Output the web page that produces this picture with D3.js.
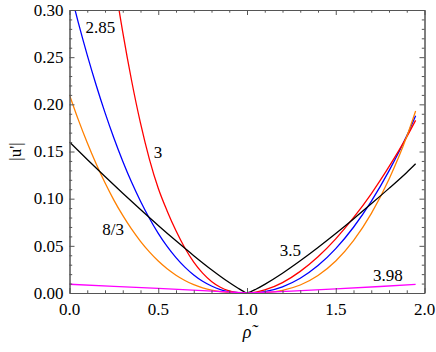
<!DOCTYPE html>
<html>
<head>
<script src="https://cdn.jsdelivr.net/npm/d3@7"></script>
</head>
<body style="margin:0">
<svg id="chart" width="436" height="352"></svg>
<script>
// ---- data ----
const xTicks = [0, 0.5, 1.0, 1.5, 2.0];
const yTicks = [0, 0.05, 0.10, 0.15, 0.20, 0.25, 0.30];

const rho285 = [0,0.05,0.1,0.15,0.2,0.25,0.3,0.35,0.4,0.45,0.5,0.55,0.6,0.65,0.7,0.75,0.8,0.85,0.9,0.95,1.0,1.05,1.1,1.2,1.3,1.4,1.5,1.6,1.7,1.8,1.9,1.95];
const u285   = [0.323,0.2863,0.2522,0.2205,0.1912,0.1643,0.1397,0.1173,0.0973,0.0793,0.0633,0.0494,0.0375,0.0274,0.0191,0.0124,0.0074,0.0037,0.0014,0.0003,0,0.0003,0.0015,0.0066,0.0157,0.0291,0.0471,0.0697,0.0971,0.1294,0.1666,0.188];

const rho3 = [0.2,0.25,0.3,0.35,0.4,0.45,0.5,0.55,0.6,0.65,0.7,0.75,0.8,0.85,0.9,0.95,1.0,1.05,1.1,1.2,1.3,1.4,1.5,1.6,1.7,1.8,1.9,1.95];
const u3   = [0.401,0.335,0.2765,0.225,0.180,0.142,0.111,0.087,0.0659,0.0477,0.0328,0.0211,0.0123,0.0061,0.0023,0.0004,0,0.0009,0.0032,0.011,0.0229,0.0384,0.0574,0.0798,0.1052,0.1339,0.1655,0.183];

const rho83 = [0,0.05,0.1,0.15,0.2,0.25,0.3,0.35,0.4,0.45,0.5,0.55,0.6,0.65,0.7,0.75,0.8,0.85,0.9,0.95,1.0,1.05,1.1,1.2,1.3,1.4,1.5,1.6,1.7,1.8,1.9,1.95];
const u83   = [0.21,0.1835,0.1592,0.137,0.1168,0.0985,0.0822,0.0676,0.0548,0.0436,0.0339,0.0257,0.0189,0.0133,0.0088,0.0055,0.003,0.0014,0.0005,0.0001,0,0.0001,0.0004,0.0029,0.0085,0.0186,0.0339,0.0555,0.0841,0.1206,0.1658,0.193];

const rho35 = [0,0.1,0.2,0.3,0.4,0.5,0.6,0.7,0.8,0.9,0.95,0.98,1.0,1.02,1.05,1.1,1.2,1.3,1.4,1.5,1.6,1.7,1.8,1.9,1.95];
const u35   = [0.16,0.1416,0.1235,0.1058,0.0885,0.0716,0.0553,0.0396,0.0247,0.0111,0.005,0.0017,0,0.0013,0.004,0.0092,0.021,0.0342,0.0483,0.0631,0.0785,0.0945,0.1109,0.1278,0.137];

const rho398 = [0,0.25,0.5,0.75,1.0,1.25,1.5,1.75,1.95];
const u398   = [0.0093,0.0071,0.0048,0.0025,0,0.0019,0.0043,0.0069,0.0092];

const seriesNames  = ["2.85", "3", "8/3", "3.5", "3.98"];
const seriesColors = ["#0000ff", "#ff0000", "#ff8000", "#000000", "#ff00ff"];

// ---- layout ----
const L = 69.5, R = 424.5, T = 10, B = 293;
const FONT = "Liberation Serif";
const fontSize = 17;
const svg = d3.select("#chart");
const x = d3.scaleLinear().domain([0, 2]).range([L, R]);
const y = d3.scaleLinear().domain([0, 0.3]).range([B, T]);

// ---- all texts first ----
const fx = d3.format(".1f"), fy = d3.format(".2f");
xTicks.forEach(t => {
  svg.append("text").attr("x", x(t)).attr("y", 315).attr("text-anchor", "middle")
    .attr("font-family", FONT).attr("font-size", fontSize).text(fx(t));
});
yTicks.forEach(t => {
  svg.append("text").attr("x", L - 6).attr("y", y(t) + 5.8).attr("text-anchor", "end")
    .attr("font-family", FONT).attr("font-size", fontSize).text(fy(t));
});
const labelPos = [
  {rho: 0.09, u: 0.276},  // 2.85
  {rho: 0.475, u: 0.143}, // 3
  {rho: 0.185, u: 0.062}, // 8/3
  {rho: 1.185, u: 0.039}, // 3.5
  {rho: 1.71, u: 0.013}   // 3.98
];
seriesNames.forEach((n, i) => {
  svg.append("text").attr("x", x(labelPos[i].rho)).attr("y", y(labelPos[i].u))
    .attr("font-family", FONT).attr("font-size", fontSize).text(n);
});
svg.append("text").attr("x", x(1.0)).attr("y", 338).attr("text-anchor", "middle")
  .attr("font-family", FONT).attr("font-size", 18).attr("font-style", "italic").text("\u03C1\u0303");
svg.append("text").attr("transform", `translate(21,${(T + B) / 2}) rotate(-90)`)
  .attr("text-anchor", "middle").attr("font-family", FONT).attr("font-size", fontSize).text("|u'|");

// ---- curves ----
const series = [
  {rho: rho285, u: u285, curve: d3.curveMonotoneX},
  {rho: rho3,   u: u3,   curve: d3.curveMonotoneX},
  {rho: rho83,  u: u83,  curve: d3.curveMonotoneX},
  {rho: rho35,  u: u35,  curve: d3.curveMonotoneX},
  {rho: rho398, u: u398, curve: d3.curveLinear}
];

svg.append("defs").append("clipPath").attr("id", "clip")
  .append("rect").attr("x", L).attr("y", T).attr("width", R - L).attr("height", B - T);

const plot = svg.append("g").attr("clip-path", "url(#clip)");
series.forEach((s, i) => {
  const pts = s.rho.map((r, k) => [r, s.u[k]]);
  const line = d3.line().x(d => x(d[0])).y(d => y(d[1])).curve(s.curve);
  plot.append("path").attr("d", line(pts))
    .attr("fill", "none").attr("stroke", seriesColors[i])
    .attr("stroke-width", 1.3).attr("stroke-linejoin", "round");
});

// ---- frame with inward ticks (labels drawn above) ----
const frameColor = "#555";
const xMinor = d3.range(0, 2.0001, 0.1).filter(v => Math.abs(v * 2 - Math.round(v * 2)) > 1e-6);
const yMinor = d3.range(0, 0.30001, 0.01).filter(v => Math.abs(v * 20 - Math.round(v * 20)) > 1e-6);

function styleAxis(g) {
  g.selectAll(".domain").attr("stroke", frameColor).attr("stroke-width", 1);
  g.selectAll(".tick line").attr("stroke", frameColor).attr("stroke-width", 1);
  g.selectAll("text").remove();
}
function addAxis(axisFn, scale, pos, ticks, size) {
  const tr = (axisFn === d3.axisBottom || axisFn === d3.axisTop) ? `translate(0,${pos})` : `translate(${pos},0)`;
  svg.append("g").attr("transform", tr)
    .call(axisFn(scale).tickValues(ticks).tickSize(-size).tickSizeOuter(0).tickFormat(""))
    .call(styleAxis);
}
addAxis(d3.axisBottom, x, B, xTicks, 5);
addAxis(d3.axisBottom, x, B, xMinor, 2.7);
addAxis(d3.axisTop, x, T, xTicks, 5);
addAxis(d3.axisTop, x, T, xMinor, 2.7);
addAxis(d3.axisLeft, y, L, yTicks, 5);
addAxis(d3.axisLeft, y, L, yMinor, 2.7);
addAxis(d3.axisRight, y, R, yTicks, 5);
addAxis(d3.axisRight, y, R, yMinor, 2.7);
</script>
</body>
</html>
